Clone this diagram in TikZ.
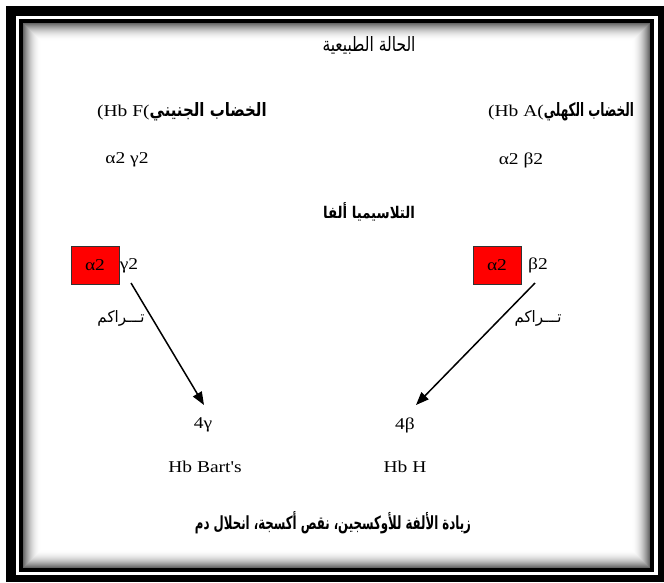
\documentclass[tikz,border=0pt]{standalone}
\usepackage{fontspec}
\setmainfont{Liberation Serif}
\newfontfamily\latn{Liberation Serif}
\newfontfamily\arab[Script=Arabic]{DejaVu Sans}
\TeXXeTstate=1
\usetikzlibrary{arrows.meta}
\newcommand{\wide}[1]{\scalebox{1.18}[1]{#1}}
% Arabic run sized to a given width and height
\newcommand{\ar}[3]{\resizebox{#1}{#2}{\arab #3}}
\newcommand{\arbf}[3]{\resizebox{#1}{#2}{\arab\bfseries #3}}
\begin{document}
\begin{tikzpicture}[x=1pt,y=-1pt,
  lat/.style={inner sep=0pt,font=\latn\fontsize{16.5}{18}\selectfont},
  arb/.style={inner sep=0pt},
  redbox/.style={draw=black!80,fill=red,line width=0.8pt,minimum width=48pt,minimum height=38pt,inner sep=0pt,font=\latn\fontsize{16.5}{18}\selectfont},
  arr/.style={line width=1.5pt,-{Triangle[length=13pt,width=10pt]}}]
\useasboundingbox (0,0) rectangle (664,582);
% double black frame
\fill[black] (6,6) rectangle (664,582);
\fill[white] (16,16) rectangle (658,575);
\fill[black] (19,19) rectangle (654,572);
\fill[white] (23,23) rectangle (650,568);
% soft inner shadow
\foreach \i in {0,...,17}{
  \pgfmathsetmacro{\p}{60*(1-\i/18)^2}
  \draw[black!\p,line width=1pt] (23.5+\i,23.5+\i) rectangle (649.5-\i,567.5-\i);
}
% headings
\node[arb] (title) at (369,45) {\ar{93pt}{15pt}{\beginR الحالة الطبيعية\endR}};
\node[lat,anchor=base west] (hbf) at (97,116) {\wide{\hbox{(Hb F(}}\arbf{117pt}{14pt}{\beginR الخضاب الجنيني\endR}};
\node[lat,anchor=base west] (hba) at (488,116) {\wide{\hbox{(Hb A(}}\arbf{90pt}{14pt}{\beginR الخضاب الكهلي\endR}};
\node[lat] (fchains) at (127,160) {\wide{α2 γ2}};
\node[lat] (achains) at (521,160) {\wide{α2 β2}};
\node[arb] (thal) at (369,212) {\arbf{92pt}{16pt}{\beginR التلاسيميا ألفا\endR}};
% alpha thalassemia chains
\node[redbox] (la) at (95,265) {\wide{α2}};
\node[lat] (g2) at (129,266) {\wide{γ2}};
\node[redbox] (ra) at (497,265) {\wide{α2}};
\node[lat] (b2) at (538,265) {\wide{β2}};
\node[arb] (lacc) at (121,318) {\ar{47pt}{12pt}{\beginR تـــراكم\endR}};
\node[arb] (racc) at (538,318) {\ar{47pt}{12pt}{\beginR تـــراكم\endR}};
\node[lat] (fourg) at (203,425) {\wide{4γ}};
\node[lat] (fourb) at (405,425) {\wide{4β}};
\node[lat] (bart) at (205,467) {\wide{Hb Bart's}};
\node[lat] (hbh) at (405,467) {\wide{Hb H}};
\node[arb] (effects) at (333,523) {\arbf{276pt}{18pt}{\beginR زيادة الألفة للأوكسجين، نقص أكسجة، انحلال دم\endR}};
% connectors
\coordinate (ls) at (131,283);
\coordinate (le) at (204,405);
\coordinate (rs) at (535,283);
\coordinate (re) at (416,405);
\draw[arr] (ls) -- (le);
\draw[arr] (rs) -- (re);
\end{tikzpicture}
\end{document}
